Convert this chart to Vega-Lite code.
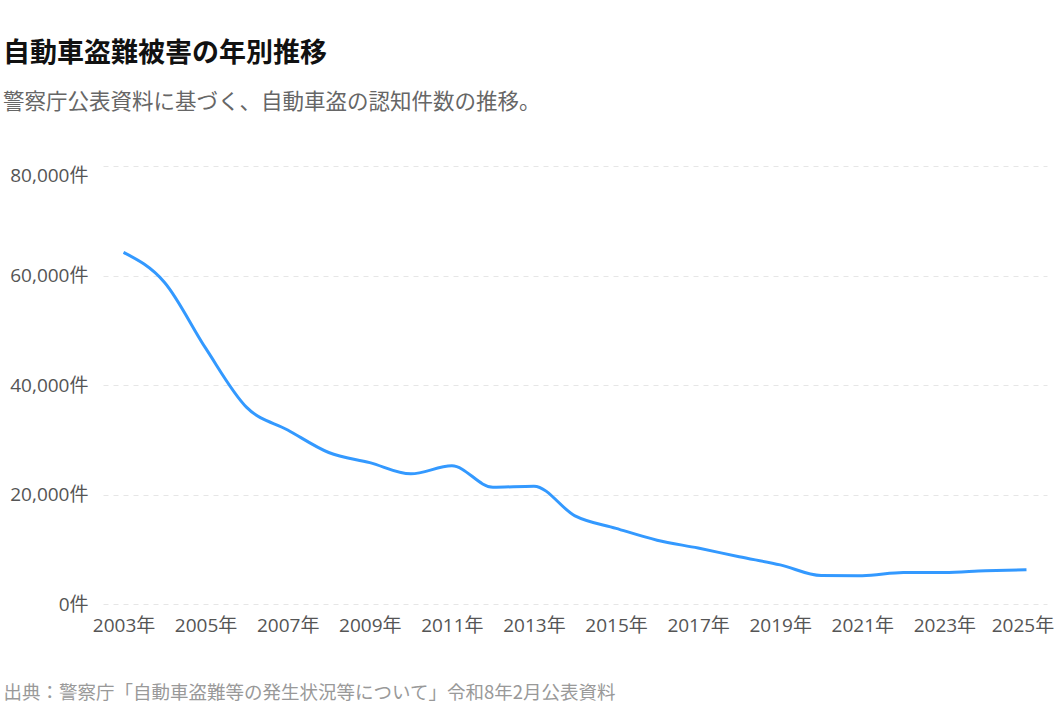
{
  "$schema": "https://vega.github.io/schema/vega-lite/v6.json",
  "width": 944,
  "height": 438,
  "autosize": {"type": "none"},
  "padding": {"left": 103, "top": 166, "right": 8, "bottom": 108},
  "background": "white",
  "config": {
    "font": "Noto Sans CJK JP",
    "view": {"stroke": null}
  },
  "title": {
    "text": "自動車盗難被害の年別推移",
    "subtitle": "警察庁公表資料に基づく、自動車盗の認知件数の推移。",
    "anchor": "start",
    "frame": "group",
    "dx": -100,
    "offset": 52,
    "fontSize": 27,
    "fontWeight": "bold",
    "color": "#111111",
    "subtitleFontSize": 21.5,
    "subtitleColor": "#666666",
    "subtitlePadding": 24,
    "font": "Noto Sans CJK JP",
    "subtitleFont": "Noto Sans CJK JP"
  },
  "data": {
    "values": [
      {"year": 2003, "count": 64223},
      {"year": 2004, "count": 58737},
      {"year": 2005, "count": 46728},
      {"year": 2006, "count": 35922},
      {"year": 2007, "count": 31790},
      {"year": 2008, "count": 27668},
      {"year": 2009, "count": 25815},
      {"year": 2010, "count": 23775},
      {"year": 2011, "count": 25238},
      {"year": 2012, "count": 21319},
      {"year": 2013, "count": 21529},
      {"year": 2014, "count": 16104},
      {"year": 2015, "count": 13821},
      {"year": 2016, "count": 11655},
      {"year": 2017, "count": 10213},
      {"year": 2018, "count": 8628},
      {"year": 2019, "count": 7143},
      {"year": 2020, "count": 5210},
      {"year": 2021, "count": 5182},
      {"year": 2022, "count": 5734},
      {"year": 2023, "count": 5762},
      {"year": 2024, "count": 6080},
      {"year": 2025, "count": 6270}
    ]
  },
  "mark": {"type": "line", "interpolate": "monotone", "color": "#3399ff", "strokeWidth": 3},
  "encoding": {
    "x": {
      "field": "year",
      "type": "quantitative",
      "scale": {"domain": [2002.5, 2025.5], "nice": false, "zero": false},
      "axis": {
        "values": [2003, 2005, 2007, 2009, 2011, 2013, 2015, 2017, 2019, 2021, 2023, 2025],
        "labelExpr": "datum.value + '年'",
        "grid": false,
        "ticks": false,
        "domain": false,
        "labelPadding": 12,
        "labelFontSize": 19,
        "labelColor": "#555555",
        "labelFont": "Open Sans, Noto Sans CJK JP",
        "labelOffset": {"condition": {"test": "datum.value === 2025", "value": -4}, "value": 0},
        "title": "出典：警察庁「自動車盗難等の発生状況等について」令和8年2月公表資料",
        "titleX": -100,
        "titleY": 88,
        "titleAlign": "left",
        "titleBaseline": "middle",
        "titleFontSize": 18.5,
        "titleFontWeight": "normal",
        "titleColor": "#999999",
        "titleFont": "Noto Sans CJK JP"
      }
    },
    "y": {
      "field": "count",
      "type": "quantitative",
      "scale": {"domain": [0, 80000], "nice": false},
      "axis": {
        "values": [0, 20000, 40000, 60000, 80000],
        "labelExpr": "format(datum.value, ',') + '件'",
        "grid": true,
        "gridDash": [5, 5],
        "gridColor": "#e6e6e6",
        "gridWidth": 1,
        "ticks": false,
        "domain": false,
        "labelPadding": 15,
        "labelFontSize": 19,
        "labelColor": "#555555",
        "labelFont": "Open Sans, Noto Sans CJK JP",
        "labelBaseline": {"condition": {"test": "datum.value === 80000", "value": "top"}, "value": "middle"},
        "title": null
      }
    }
  }
}
